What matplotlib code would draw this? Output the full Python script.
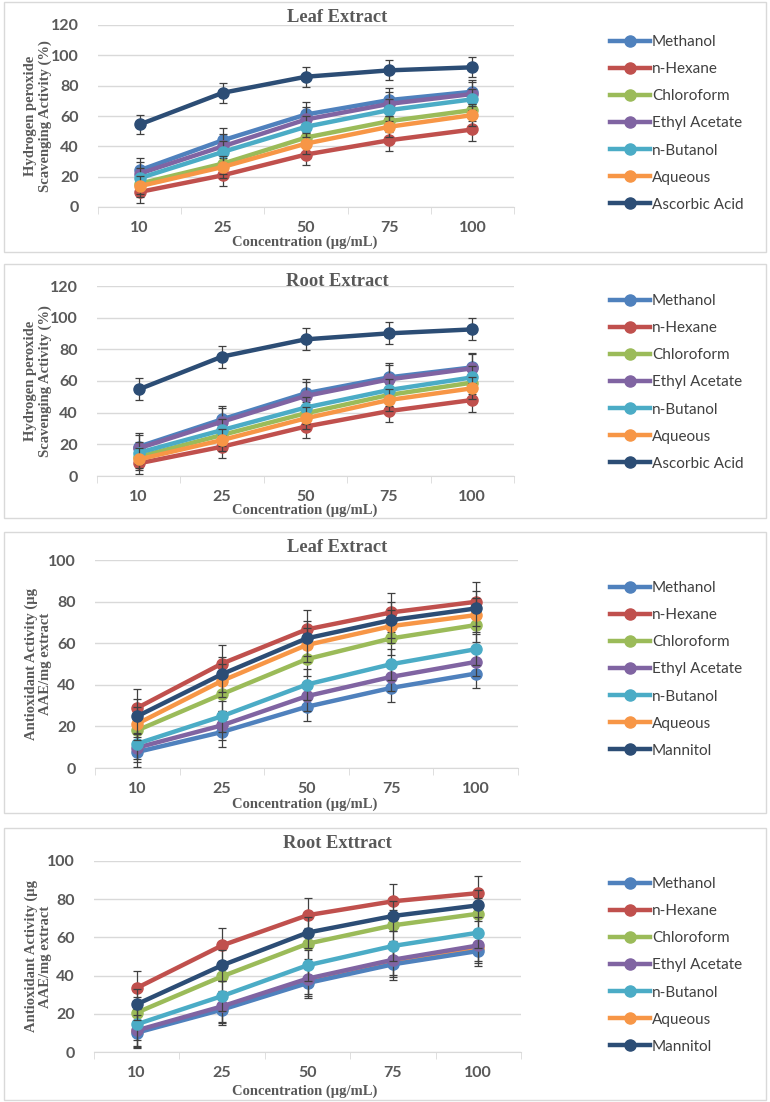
import numpy as np
import matplotlib
matplotlib.use('Agg')
import matplotlib.pyplot as plt
from matplotlib.patches import Rectangle

W, H = 770, 1102

conc = ['10', '25', '50', '75', '100']
solvents = ['Methanol', 'n-Hexane', 'Chloroform', 'Ethyl Acetate', 'n-Butanol', 'Aqueous']
colors = ['#4F81BD', '#C0504D', '#9BBB59', '#8064A2', '#4BACC6', '#F79646', '#2C4D75']

# Hydrogen peroxide scavenging, leaf extract (%)
h2o2_leaf = [
    [24.2, 44.0, 61.0, 70.5, 76.0],   # Methanol
    [9.9, 20.9, 34.6, 44.0, 51.1],    # n-Hexane
    [15.4, 28.6, 45.8, 56.6, 63.9],   # Chloroform
    [22.0, 40.0, 57.7, 68.0, 74.5],   # Ethyl Acetate
    [19.0, 36.3, 52.9, 63.9, 71.0],   # n-Butanol
    [13.7, 26.4, 41.8, 52.9, 60.6],   # Aqueous
    [54.4, 75.3, 85.9, 90.1, 92.1],   # Ascorbic Acid
]
h2o2_leaf_err = [
    [8, 8, 8, 8, 8],
    [7, 7, 7, 7, 7.5],
    [7, 7, 7, 7, 7],
    [8, 8, 8, 8, 8],
    [7, 7, 7, 7, 7],
    [7, 7, 7, 7, 7],
    [6.5, 6.5, 6.5, 6.5, 6.5],
]

# Hydrogen peroxide scavenging, root extract (%)
h2o2_root = [
    [18.5, 35.8, 52.2, 62.3, 68.6],
    [8.0, 18.5, 31.2, 41.0, 48.0],
    [12.2, 25.9, 39.6, 51.2, 59.0],
    [17.5, 34.3, 50.5, 61.0, 68.0],
    [14.7, 29.0, 43.2, 54.3, 62.3],
    [10.5, 22.7, 36.4, 48.0, 55.4],
    [54.7, 75.4, 86.3, 90.1, 92.6],
]
h2o2_root_err = [
    [8.5, 8.5, 9, 9, 9],
    [7, 7, 7, 7, 7.5],
    [7, 7, 7, 7, 7],
    [8.5, 8.5, 9, 9, 9],
    [7, 7, 7, 7, 7],
    [7, 7, 7, 7, 7],
    [7, 7, 7, 7, 7],
]

# Total antioxidant activity, leaf extract (ug AAE/mg extract)
aox_leaf = [
    [7.7, 17.3, 29.4, 38.5, 45.4],
    [28.9, 50.2, 66.6, 74.8, 79.9],
    [18.1, 35.5, 52.3, 62.3, 68.7],
    [9.8, 20.5, 34.5, 43.8, 51.0],
    [11.7, 24.9, 40.1, 49.9, 57.1],
    [21.3, 41.9, 59.1, 68.2, 73.5],
    [24.9, 45.1, 62.3, 71.1, 76.7],
]
aox_leaf_err = [
    [7, 7, 7, 7, 7],
    [9, 9, 9.5, 9.5, 9.5],
    [8, 8, 8, 8, 8],
    [7, 7, 7, 7, 7],
    [7.5, 7.5, 7.5, 7.5, 7.5],
    [8, 8, 8, 8, 8],
    [8.5, 8.5, 8.5, 8.5, 8.5],
]

# Total antioxidant activity, root extract (ug AAE/mg extract)
aox_root = [
    [10.1, 22.2, 36.1, 45.9, 52.9],
    [33.5, 55.8, 71.6, 78.9, 83.2],
    [20.6, 39.6, 56.7, 66.3, 72.4],
    [11.3, 23.9, 38.4, 48.3, 55.8],
    [14.5, 29.3, 45.4, 55.5, 62.5],
    [10.8, 23.0, 37.3, 47.2, 54.4],
    [25.0, 45.4, 62.5, 71.2, 76.8],
]
aox_root_err = [
    [8, 8, 8, 8, 8],
    [9, 9, 9, 9, 9],
    [8, 8, 8, 8, 8],
    [8, 8, 8, 8, 8],
    [8, 8, 8, 8, 8],
    [8, 8, 8, 8, 8],
    [8, 8, 8, 8, 8],
]

panels = [
    dict(data=h2o2_leaf, err=h2o2_leaf_err, std='Ascorbic Acid', title='Leaf Extract',
         ylabel='Hydrogen peroxide\nScavenging Activity (%)', ymax=120,
         box=(2, 252), plot=(98, 514, 207, 25), title_y=17, xlab_y=242, leg=40),
    dict(data=h2o2_root, err=h2o2_root_err, std='Ascorbic Acid', title='Root Extract',
         ylabel='Hydrogen peroxide\nScavenging Activity (%)', ymax=120,
         box=(264, 518), plot=(97, 514, 476, 286), title_y=282, xlab_y=510, leg=299),
    dict(data=aox_leaf, err=aox_leaf_err, std='Mannitol', title='Leaf Extract',
         ylabel='Antioxidant Activity (µg\nAAE/mg extract', ymax=100,
         box=(532, 813), plot=(95, 518, 768, 560), title_y=548, xlab_y=804, leg=586),
    dict(data=aox_root, err=aox_root_err, std='Mannitol', title='Root Exttract',
         ylabel='Antioxidant Activity (µg\nAAE/mg extract', ymax=100,
         box=(828, 1100), plot=(94, 521, 1052, 861), title_y=844, xlab_y=1091, leg=882),
]

fig = plt.figure(figsize=(W / 100, H / 100), dpi=100)
fig.patch.set_facecolor('white')

grey = '#595959'

for p in panels:
    top, bot = p['box']
    fig.patches.append(Rectangle((4 / W, 1 - bot / H), (766 - 4) / W, (bot - top) / H,
                                 transform=fig.transFigure, fill=False,
                                 ec='#D9D9D9', lw=1.0))
    l, r, y0, y1 = p['plot']
    ax = fig.add_axes([l / W, 1 - y0 / H, (r - l) / W, (y0 - y1) / H])
    x = np.arange(len(conc))
    labels = solvents + [p['std']]
    handles = []
    for i, (vals, err) in enumerate(zip(p['data'], p['err'])):
        z = 3 + i
        if p['title'] == 'Root Exttract' and labels[i] == 'Aqueous':
            z = 1
        ax.errorbar(x, vals, yerr=err, fmt='none', ecolor='#404040', elinewidth=0.9,
                    capsize=3, capthick=0.9, zorder=z)
        h, = ax.plot(x, vals, color=colors[i], lw=3.2, marker='o', ms=8,
                     zorder=z + 0.5, label=labels[i])
        handles.append(h)
    ax.set_xlim(-0.5, len(conc) - 0.5)
    ax.set_ylim(0, p['ymax'])
    ax.set_yticks(np.arange(0, p['ymax'] + 1, 20))
    ax.set_xticks(x)
    ax.set_xticklabels(conc)
    ax.set_xticks(np.arange(-0.5, len(conc), 1), minor=True)
    for s in ['top', 'right', 'left']:
        ax.spines[s].set_visible(False)
    ax.spines['bottom'].set_color('#D9D9D9')
    ax.grid(axis='y', color='#D9D9D9', lw=1)
    ax.set_axisbelow(True)
    ax.tick_params(axis='y', length=0, pad=14, labelcolor=grey)
    ax.tick_params(axis='x', which='major', length=0, pad=10, labelcolor=grey)
    ax.tick_params(axis='x', which='minor', length=5, color='#D9D9D9')
    for t in ax.get_xticklabels() + ax.get_yticklabels():
        t.set_fontfamily('Lato')
        t.set_fontweight('bold')
        t.set_fontsize(11.5)

    fig.text(337 / W, 1 - p['title_y'] / H, p['title'], ha='center', va='center',
             family='Liberation Serif', weight='bold', size=13.3, color=grey)
    fig.text(305 / W, 1 - p['xlab_y'] / H, 'Concentration (µg/mL)', ha='center', va='center',
             family='Liberation Serif', weight='bold', size=10.5, color=grey)
    fig.text(38 / W, 1 - (y0 + y1) / 2 / H, p['ylabel'], ha='center', va='center',
             rotation=90, family='Liberation Serif', weight='bold', size=10.5,
             color=grey, linespacing=1.1)

    leg = ax.legend(handles=handles, loc='upper left',
                    bbox_to_anchor=(610 / W, 1 - (p['leg'] - 5) / H),
                    bbox_transform=fig.transFigure, frameon=False,
                    prop=dict(family='Lato', size=11), handlelength=2.6,
                    handletextpad=0.15, labelspacing=0.86, borderpad=0, borderaxespad=0)
    for t in leg.get_texts():
        t.set_color('#404040')

fig.savefig('out.png', dpi=100)
